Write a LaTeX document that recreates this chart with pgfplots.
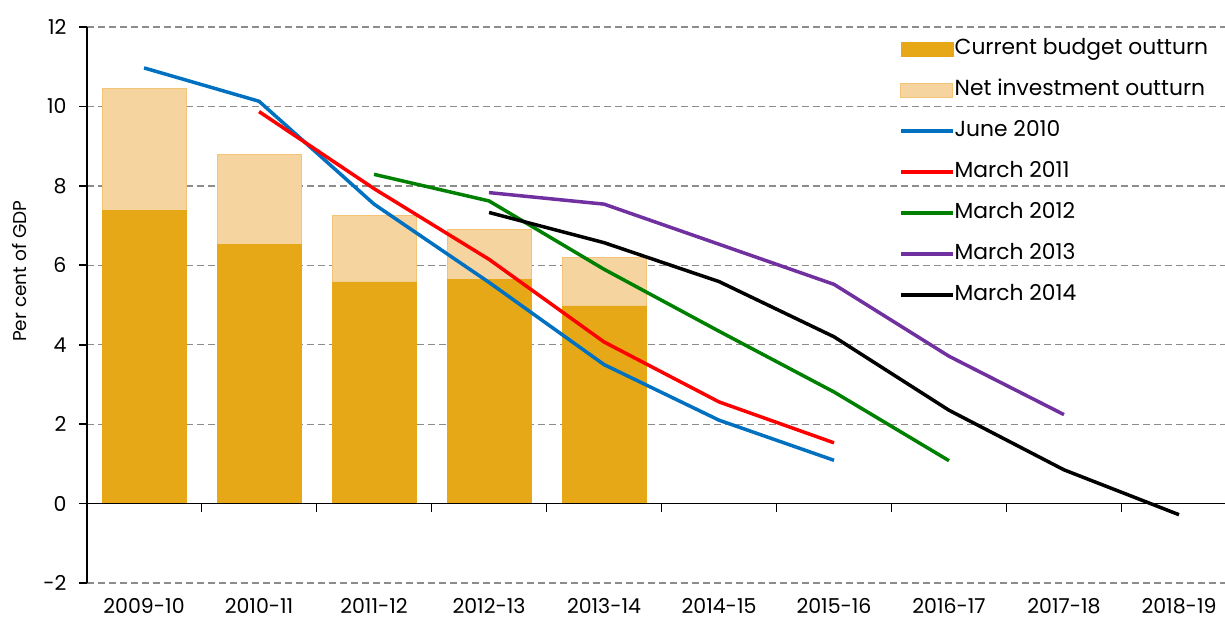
\documentclass[border=0pt]{standalone}
\usepackage{fontspec}
\setmainfont{Poppins}
\usepackage{pgfplots}
\pgfplotsset{compat=1.18}
\definecolor{cur}{HTML}{E6A817}
\definecolor{net}{HTML}{F5D49F}
\definecolor{netb}{HTML}{F2C477}
\definecolor{jun}{HTML}{0070C0}
\definecolor{m11}{HTML}{FF0000}
\definecolor{m12}{HTML}{008000}
\definecolor{m13}{HTML}{7030A0}
\definecolor{grd}{HTML}{8C8C8C}
\pgfplotsset{
  linelegend/.style={legend image code/.code={\draw[##1] (0pt,0pt) -- (52pt,0pt);}},
  barlegend/.style={legend image code/.code={\draw[##1] (0pt,-7pt) rectangle (52pt,7pt);}},
}
\begin{document}
\begin{tikzpicture}
\begin{axis}[name=ax, scale only axis, width=1138pt, height=556pt,
  xmin=-0.496, xmax=9.40, ymin=-2, ymax=12,
  axis y line=left, axis x line=bottom,
  x axis line style={draw=none},
  y axis line style={black, line width=1.6pt, -},
  xtick={0,...,9},
  xticklabels={2009-10,2010-11,2011-12,2012-13,2013-14,2014-15,2015-16,2016-17,2017-18,2018-19},
  x tick style={draw=none},
  xticklabel style={yshift=-4pt},
  ytick={-2,0,...,12},
  yticklabels={-2,0,2,4,6,8,10,12},
  yticklabel style={xshift=-9pt},
  y tick style={black, line width=1.6pt},
  major tick length=8pt, tick align=outside,
  ymajorgrids, grid style={grd, line width=1.3pt, dash pattern=on 7pt off 4pt},
  tick label style={font=\fontsize{20.5}{24}\selectfont},
  ylabel={Per cent of GDP},
  ylabel style={font=\fontsize{18.5}{22}\selectfont, at={(rel axis cs:0,0.561)}, anchor=center, yshift=67pt},
  no markers,
  linelegend,
  legend style={at={(rel axis cs:0.7135,1)}, yshift=-12pt, anchor=north west, draw=none, fill=none,
    font=\fontsize{21.8}{25}\selectfont, inner sep=0pt,
    row sep=21pt,
    nodes={inner sep=0pt, text height=15pt, text depth=5pt}},
  legend cell align=left,
  /tikz/every even column/.append style={column sep=5pt},
]
% total bars (net investment on top of current)
\addplot[ybar, bar width=84pt, bar shift=0pt, fill=net, draw=netb, line width=1pt, forget plot]
  coordinates {(0,10.46) (1,8.80) (2,7.26) (3,6.91) (4,6.20)};
\addplot[ybar, bar width=84pt, bar shift=0pt, fill=cur, draw=cur, line width=0.5pt, forget plot]
  coordinates {(0,7.39) (1,6.53) (2,5.58) (3,5.65) (4,4.98)};
\draw[black, line width=1.6pt] (axis cs:-0.496,0) -- (axis cs:9.40,0);
\draw[black, line width=1.6pt] (axis cs:0.5,0) -- ++(0pt,-8pt);
\draw[black, line width=1.6pt] (axis cs:1.5,0) -- ++(0pt,-8pt);
\draw[black, line width=1.6pt] (axis cs:2.5,0) -- ++(0pt,-8pt);
\draw[black, line width=1.6pt] (axis cs:3.5,0) -- ++(0pt,-8pt);
\draw[black, line width=1.6pt] (axis cs:4.5,0) -- ++(0pt,-8pt);
\draw[black, line width=1.6pt] (axis cs:5.5,0) -- ++(0pt,-8pt);
\draw[black, line width=1.6pt] (axis cs:6.5,0) -- ++(0pt,-8pt);
\draw[black, line width=1.6pt] (axis cs:7.5,0) -- ++(0pt,-8pt);
\draw[black, line width=1.6pt] (axis cs:8.5,0) -- ++(0pt,-8pt);
\addlegendimage{fill=cur, draw=cur, barlegend}
\addlegendentry{Current budget outturn}
\addlegendimage{fill=net, draw=netb, line width=1pt, barlegend}
\addlegendentry{Net investment outturn}
\addplot[jun, line width=3.5pt] coordinates {(0,10.97) (1,10.13) (2,7.54) (3,5.57) (4,3.50) (5,2.10) (6,1.09)};
\addlegendentry{June 2010}
\addplot[m11, line width=3.5pt] coordinates {(1,9.87) (2,7.93) (3,6.15) (4,4.07) (5,2.56) (6,1.53)};
\addlegendentry{March 2011}
\addplot[m12, line width=3.5pt] coordinates {(2,8.29) (3,7.62) (4,5.90) (5,4.34) (6,2.81) (7,1.08)};
\addlegendentry{March 2012}
\addplot[m13, line width=3.5pt] coordinates {(3,7.83) (4,7.54) (5,6.53) (6,5.52) (7,3.71) (8,2.24)};
\addlegendentry{March 2013}
\addplot[black, line width=3.5pt] coordinates {(3,7.33) (4,6.57) (5,5.59) (6,4.20) (7,2.35) (8,0.85) (9,-0.28)};
\addlegendentry{March 2014}
\end{axis}
\pgfresetboundingbox
\path[use as bounding box] ([xshift=-87pt,yshift=-35.7pt]ax.south west) rectangle ([yshift=27pt]ax.north east);
\end{tikzpicture}
\end{document}
